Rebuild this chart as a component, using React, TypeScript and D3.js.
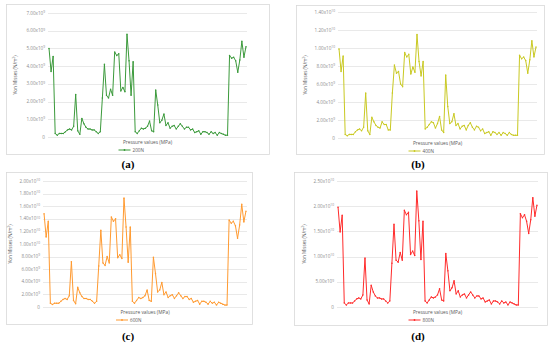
import React from 'react';
import * as d3 from 'd3';

// Von Mises stress per sample point, in units of 1e9 N/m2
const load200N = [
  5.0, 3.7, 4.55, 0.2, 0.1, 0.2, 0.2, 0.2, 0.3, 0.4,
  0.45, 0.4, 0.6, 2.4, 0.35, 0.15, 1.05, 0.75, 0.55, 0.45,
  0.45, 0.4, 0.4, 0.3, 0.2, 0.3, 2.2, 4.1, 2.35, 2.2,
  2.7, 2.35, 4.8, 4.6, 4.7, 2.6, 2.8, 2.55, 5.8, 4.3,
  2.35, 4.25, 0.3, 0.2, 0.35, 0.5, 0.45, 0.5, 0.6, 0.9,
  0.35, 0.3, 2.65, 1.8, 0.8, 0.95, 1.3, 0.65, 0.8, 0.5,
  0.6, 0.65, 0.45, 0.6, 0.75, 0.6, 0.45, 0.55, 0.55, 0.4,
  0.45, 0.25, 0.3, 0.35, 0.15, 0.3, 0.3, 0.25, 0.15, 0.3,
  0.2, 0.25, 0.1, 0.25, 0.2, 0.15, 0.1, 0.1, 4.6, 4.45,
  4.5, 4.3, 3.65, 4.35, 5.4, 4.5, 5.1,
];

const load400N = [
  9.9, 7.4, 9.1, 0.4, 0.25, 0.4, 0.4, 0.4, 0.7, 0.9,
  1.0, 0.8, 1.2, 5.0, 0.8, 0.4, 2.3, 1.8, 1.4, 1.2,
  1.1, 1.8, 1.5, 1.5, 0.9, 0.9, 5.0, 8.1, 7.2, 7.4,
  6.0, 5.7, 9.5, 9.0, 9.3, 7.1, 7.9, 7.3, 11.5, 8.5,
  6.9, 8.5, 1.0, 1.2, 1.5, 1.8, 1.7, 1.1, 1.6, 2.4,
  0.9, 0.6, 7.0, 3.5, 1.6, 1.8, 2.7, 1.4, 1.6, 1.0,
  1.3, 1.4, 0.9, 1.4, 1.7, 1.2, 0.9, 1.3, 1.2, 0.8,
  1.0, 0.5, 0.6, 0.7, 0.3, 0.7, 0.6, 0.4, 0.6, 0.3,
  0.6, 0.5, 0.3, 0.6, 0.4, 0.3, 0.3, 0.3, 9.2, 8.8,
  9.0, 8.6, 7.2, 8.7, 10.8, 9.0, 10.1,
];

const load600N = [
  14.8, 11.1, 13.6, 0.6, 0.4, 0.6, 0.6, 0.6, 0.9, 1.2,
  1.35, 1.2, 1.8, 7.2, 1.05, 0.5, 3.15, 2.25, 1.65, 1.35,
  1.35, 1.2, 1.2, 0.9, 0.6, 0.9, 6.5, 12.2, 7.0, 6.6,
  8.0, 7.0, 14.3, 13.6, 14.0, 7.8, 8.3, 7.7, 17.3, 12.7,
  7.1, 12.7, 0.9, 0.6, 1.05, 1.5, 1.35, 1.5, 1.8, 2.7,
  1.05, 0.9, 7.9, 5.3, 2.4, 2.7, 3.9, 1.95, 2.4, 1.5,
  1.8, 1.95, 1.35, 1.8, 2.25, 1.8, 1.35, 1.65, 1.65, 1.2,
  1.35, 0.75, 0.9, 1.05, 0.45, 0.9, 0.9, 0.75, 0.45, 0.9,
  0.6, 0.75, 0.3, 0.75, 0.6, 0.45, 0.3, 0.3, 13.8, 13.3,
  13.6, 12.9, 10.9, 13.0, 16.3, 13.5, 15.2,
];

const load800N = [
  19.8, 14.9, 18.2, 0.8, 0.4, 0.8, 0.8, 0.8, 1.2, 1.6,
  1.8, 1.6, 2.4, 9.7, 1.4, 0.6, 4.3, 3.0, 2.2, 1.8,
  1.8, 1.6, 1.6, 1.2, 0.8, 1.2, 8.7, 16.4, 9.3, 8.9,
  10.8, 9.3, 19.2, 18.3, 18.8, 10.4, 11.1, 10.2, 23.0, 17.1,
  9.4, 17.0, 1.2, 0.8, 1.4, 2.0, 1.8, 2.0, 2.4, 3.6,
  1.4, 1.2, 10.6, 7.2, 3.2, 3.8, 5.2, 2.6, 3.2, 2.0,
  2.4, 2.6, 1.8, 2.4, 3.0, 2.4, 1.8, 2.2, 2.2, 1.6,
  1.8, 1.0, 1.2, 1.4, 0.6, 1.2, 1.2, 1.0, 0.6, 1.2,
  0.8, 1.0, 0.4, 1.0, 0.8, 0.6, 0.4, 0.4, 18.5, 17.7,
  18.3, 17.0, 14.6, 17.3, 21.7, 18.0, 20.2,
];

const seriesNames = ['200N', '400N', '600N', '800N'];
const panelLetters = ['(a)', '(b)', '(c)', '(d)'];
const yMaxes = [7, 14, 20, 25];
const yTickSteps = [1, 2, 2, 5];
const allSeries = [load200N, load400N, load600N, load800N];

const colors = ['#3b9a3b', '#c9c922', '#ff9a30', '#ff2b2b'];

// panel geometry: box and plot rectangle
const layouts = [
  { bx: 6, by: 4, bw: 263, bh: 150, left: 48, right: 247, top: 13, bottom: 137, labelX: 128, labelY: 164 },
  { bx: 296, by: 5, bw: 248, bh: 149, left: 338, right: 537, top: 12, bottom: 138, labelX: 418, labelY: 164 },
  { bx: 6, by: 172, bw: 246, bh: 152, left: 43, right: 247, top: 181, bottom: 307, labelX: 128, labelY: 336 },
  { bx: 294, by: 172, bw: 253, bh: 153, left: 337, right: 538, top: 181, bottom: 307, labelX: 418, labelY: 336 },
];

const font = '"Open Sans", "DejaVu Sans", sans-serif';

function TickLabel({ v, x, y }: { v: number; x: number; y: number }) {
  if (v === 0) {
    return <text x={x} y={y} dy="0.35em" textAnchor="end" fontSize={4.6} fill="#8c8c8c" fontFamily={font}>0</text>;
  }
  const exp = v >= 10 ? 10 : 9;
  const mant = v / Math.pow(10, exp - 9);
  return (
    <text x={x} y={y} dy="0.35em" textAnchor="end" fontSize={4.6} fill="#8c8c8c" fontFamily={font}>
      {mant.toFixed(2) + 'x10'}
      <tspan dy={-1.8} fontSize={3.2}>{exp}</tspan>
    </text>
  );
}

function Panel({ i }: { i: number }) {
  const L = layouts[i];
  const data = allSeries[i];
  const color = colors[i];
  const x = d3.scalePoint<number>()
    .domain(d3.range(data.length))
    .range([L.left, L.right])
    .padding(0.5);
  const y = d3.scaleLinear().domain([0, yMaxes[i]]).range([L.bottom, L.top]);
  const ticks = d3.range(0, yMaxes[i] + 0.001, yTickSteps[i]);
  const line = d3.line<number>()
    .x((_, k) => x(k) as number)
    .y(d => y(d));
  const cx = (L.left + L.right) / 2;
  const cy = (L.top + L.bottom) / 2;
  const legY = L.bottom + 13;

  return (
    <g>
      <rect x={L.bx + 0.5} y={L.by + 0.5} width={L.bw} height={L.bh} fill="#fff" stroke="#d9d9d9" strokeWidth={0.8} />
      {ticks.map(t => (
        <g key={t}>
          <line x1={L.left} x2={L.right} y1={Math.round(y(t)) + 0.5} y2={Math.round(y(t)) + 0.5} stroke="#e3e3e3" strokeWidth={0.8} />
          <TickLabel v={t} x={L.left - 3} y={y(t)} />
        </g>
      ))}
      <text
        transform={`translate(${L.left - 31},${cy}) rotate(-90)`}
        textAnchor="middle"
        fontSize={4.6}
        fill="#595959"
        fontFamily={font}
      >
        {'Von Misses (N/m'}
        <tspan dy={-1.6} fontSize={3.2}>2</tspan>
        <tspan dy={1.6}>)</tspan>
      </text>
      <path d={line(data) || ''} fill="none" stroke={color} strokeWidth={1} strokeLinejoin="round" />
      {data.map((d, k) => (
        <circle key={k} cx={x(k)} cy={y(d)} r={0.75} fill={color} />
      ))}
      <text x={cx} y={L.bottom + 5} dy="0.35em" textAnchor="middle" fontSize={4.8} fill="#595959" fontFamily={font}>
        Pressure values (MPa)
      </text>
      <line x1={cx - 29} x2={cx - 17} y1={legY} y2={legY} stroke={color} strokeWidth={1} />
      <circle cx={cx - 23} cy={legY} r={0.9} fill={color} />
      <text x={cx - 15} y={legY} dy="0.35em" fontSize={4.6} fill="#595959" fontFamily={font}>
        {seriesNames[i]}
      </text>
      <text
        x={L.labelX}
        y={L.labelY}
        dy="0.35em"
        textAnchor="middle"
        fontSize={11}
        fontWeight="bold"
        fontFamily='"Liberation Serif", "DejaVu Serif", serif'
        fill="#000"
      >
        {panelLetters[i]}
      </text>
    </g>
  );
}

export default function App() {
  return (
    <svg
      width={550}
      height={344}
      viewBox="0 0 550 344"
      style={{ position: 'absolute', left: 0, top: 0, background: '#fff' }}
    >
      {[0, 1, 2, 3].map(i => <Panel key={i} i={i} />)}
    </svg>
  );
}
